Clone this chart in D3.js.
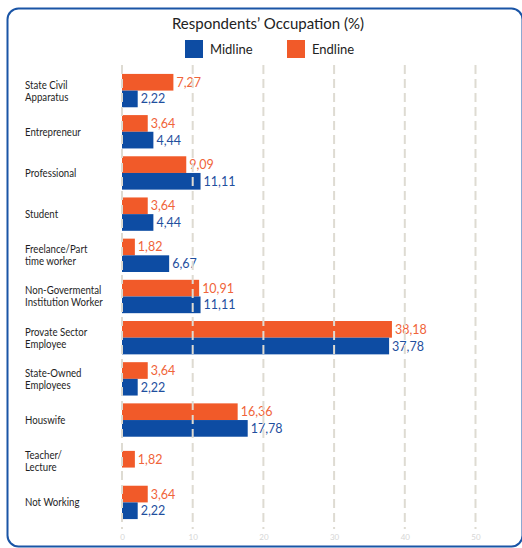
<!DOCTYPE html>
<html>
<head>
<meta charset="utf-8">
<script src="https://cdn.jsdelivr.net/npm/d3@7"></script>
<style>
  html, body { margin: 0; padding: 0; background: #ffffff; }
  svg { display: block; }
</style>
</head>
<body>
<div id="chart"></div>
<script>
// Occupation categories (line breaks mark wrapped labels)
const categories = [
  "State Civil\nApparatus",
  "Entrepreneur",
  "Professional",
  "Student",
  "Freelance/Part\ntime worker",
  "Non-Govermental\nInstitution Worker",
  "Provate Sector\nEmployee",
  "State-Owned\nEmployees",
  "Houswife",
  "Teacher/\nLecture",
  "Not Working"
];
// Share of respondents (%) per survey round
const endline = [7.27, 3.64, 9.09, 3.64, 1.82, 10.91, 38.18, 3.64, 16.36, 1.82, 3.64];
const midline = [2.22, 4.44, 11.11, 4.44, 6.67, 11.11, 37.78, 2.22, 17.78, null, 2.22];
const seriesNames = ["Endline", "Midline"];
const legendOrder = ["Midline", "Endline"];
const xTicks = [0, 10, 20, 30, 40, 50];

const W = 522, H = 548;
const colors = { Midline: "#0d4ca3", Endline: "#f15a29" };
const textColors = { Midline: "#1f4f9e", Endline: "#f0643a" };

const svg = d3.select("#chart").append("svg")
  .attr("width", W).attr("height", H);

// Rounded frame
svg.append("rect")
  .attr("x", 7.5).attr("y", 8.5)
  .attr("width", 515).attr("height", 538)
  .attr("rx", 11).attr("ry", 11)
  .attr("fill", "#ffffff")
  .attr("stroke", "#1a55a6")
  .attr("stroke-width", 2);

// Title
svg.append("text")
  .attr("x", 268).attr("y", 29)
  .attr("text-anchor", "middle")
  .attr("font-family", "Lato, 'Open Sans', sans-serif")
  .attr("font-size", 15)
  .attr("fill", "#222")
  .text("Respondents’ Occupation (%)");

// Legend
const legendX = { Midline: 185, Endline: 287 };
legendOrder.forEach(name => {
  const g = svg.append("g").attr("transform", `translate(${legendX[name]},40)`);
  g.append("rect").attr("width", 18).attr("height", 18).attr("fill", colors[name]);
  g.append("text")
    .attr("x", 25).attr("y", 13.5)
    .attr("font-family", "Lato, 'Open Sans', sans-serif")
    .attr("font-size", 13)
    .attr("fill", "#222")
    .text(name);
});

// Scales
const x = d3.scaleLinear().domain([0, 50]).range([122, 475.5]);
const y = d3.scaleBand().domain(categories)
  .range([70, 523])
  .paddingInner(0.19).paddingOuter(0.095);
const ySub = d3.scaleBand().domain(seriesNames).range([0, y.bandwidth()]);

const rows = categories.map((c, i) => ({
  cat: c,
  values: [
    { name: "Endline", v: endline[i] },
    { name: "Midline", v: midline[i] }
  ].filter(d => d.v != null)
}));

// Category labels, slightly condensed
const labelG = svg.append("g").attr("transform", "translate(25,0) scale(0.84,1)");
rows.forEach(r => {
  const lines = r.cat.split("\n");
  const cy = y(r.cat) + y.bandwidth() / 2;
  const lh = 12;
  const t = labelG.append("text")
    .attr("font-family", "Lato, 'Open Sans', sans-serif")
    .attr("font-size", 11.5)
    .attr("fill", "#1e1e1e");
  lines.forEach((ln, k) => {
    t.append("tspan")
      .attr("x", 0)
      .attr("y", cy - (lines.length - 1) * lh / 2 + k * lh + 4)
      .text(ln);
  });
});

// Bars
const barG = svg.append("g");
rows.forEach(r => {
  const top = y(r.cat);
  const single = r.values.length === 1;
  r.values.forEach(d => {
    const by = single ? top + (y.bandwidth() - ySub.bandwidth()) / 2 - 2 : top + ySub(d.name);
    barG.append("rect")
      .attr("x", x(0))
      .attr("y", by)
      .attr("width", x(d.v) - x(0))
      .attr("height", ySub.bandwidth())
      .attr("fill", colors[d.name]);
    barG.append("text")
      .attr("x", x(d.v) + 3)
      .attr("y", by + ySub.bandwidth() / 2 + 4.5)
      .attr("font-family", "Lato, 'Open Sans', sans-serif")
      .attr("font-size", 12.5)
      .attr("fill", textColors[d.name])
      .text(d3.format(".2f")(d.v).replace(".", ","));
  });
});

// Dashed grid lines drawn over the bars
const gridG = svg.append("g");
gridG.selectAll("line").data(xTicks).join("line")
  .attr("x1", d => x(d)).attr("x2", d => x(d))
  .attr("y1", 65).attr("y2", 529)
  .attr("stroke", "#dedbd2")
  .attr("stroke-width", 2)
  .attr("stroke-dasharray", "9,5");

// Axis tick labels
const axis = d3.axisBottom(x).tickValues(xTicks).tickSize(0).tickPadding(0);
const axG = svg.append("g").attr("transform", "translate(0,534)").call(axis);
axG.select(".domain").remove();
axG.selectAll("text")
  .attr("font-family", "Lato, sans-serif")
  .attr("font-size", 8)
  .attr("fill", "#d6d6d6");
</script>
</body>
</html>
